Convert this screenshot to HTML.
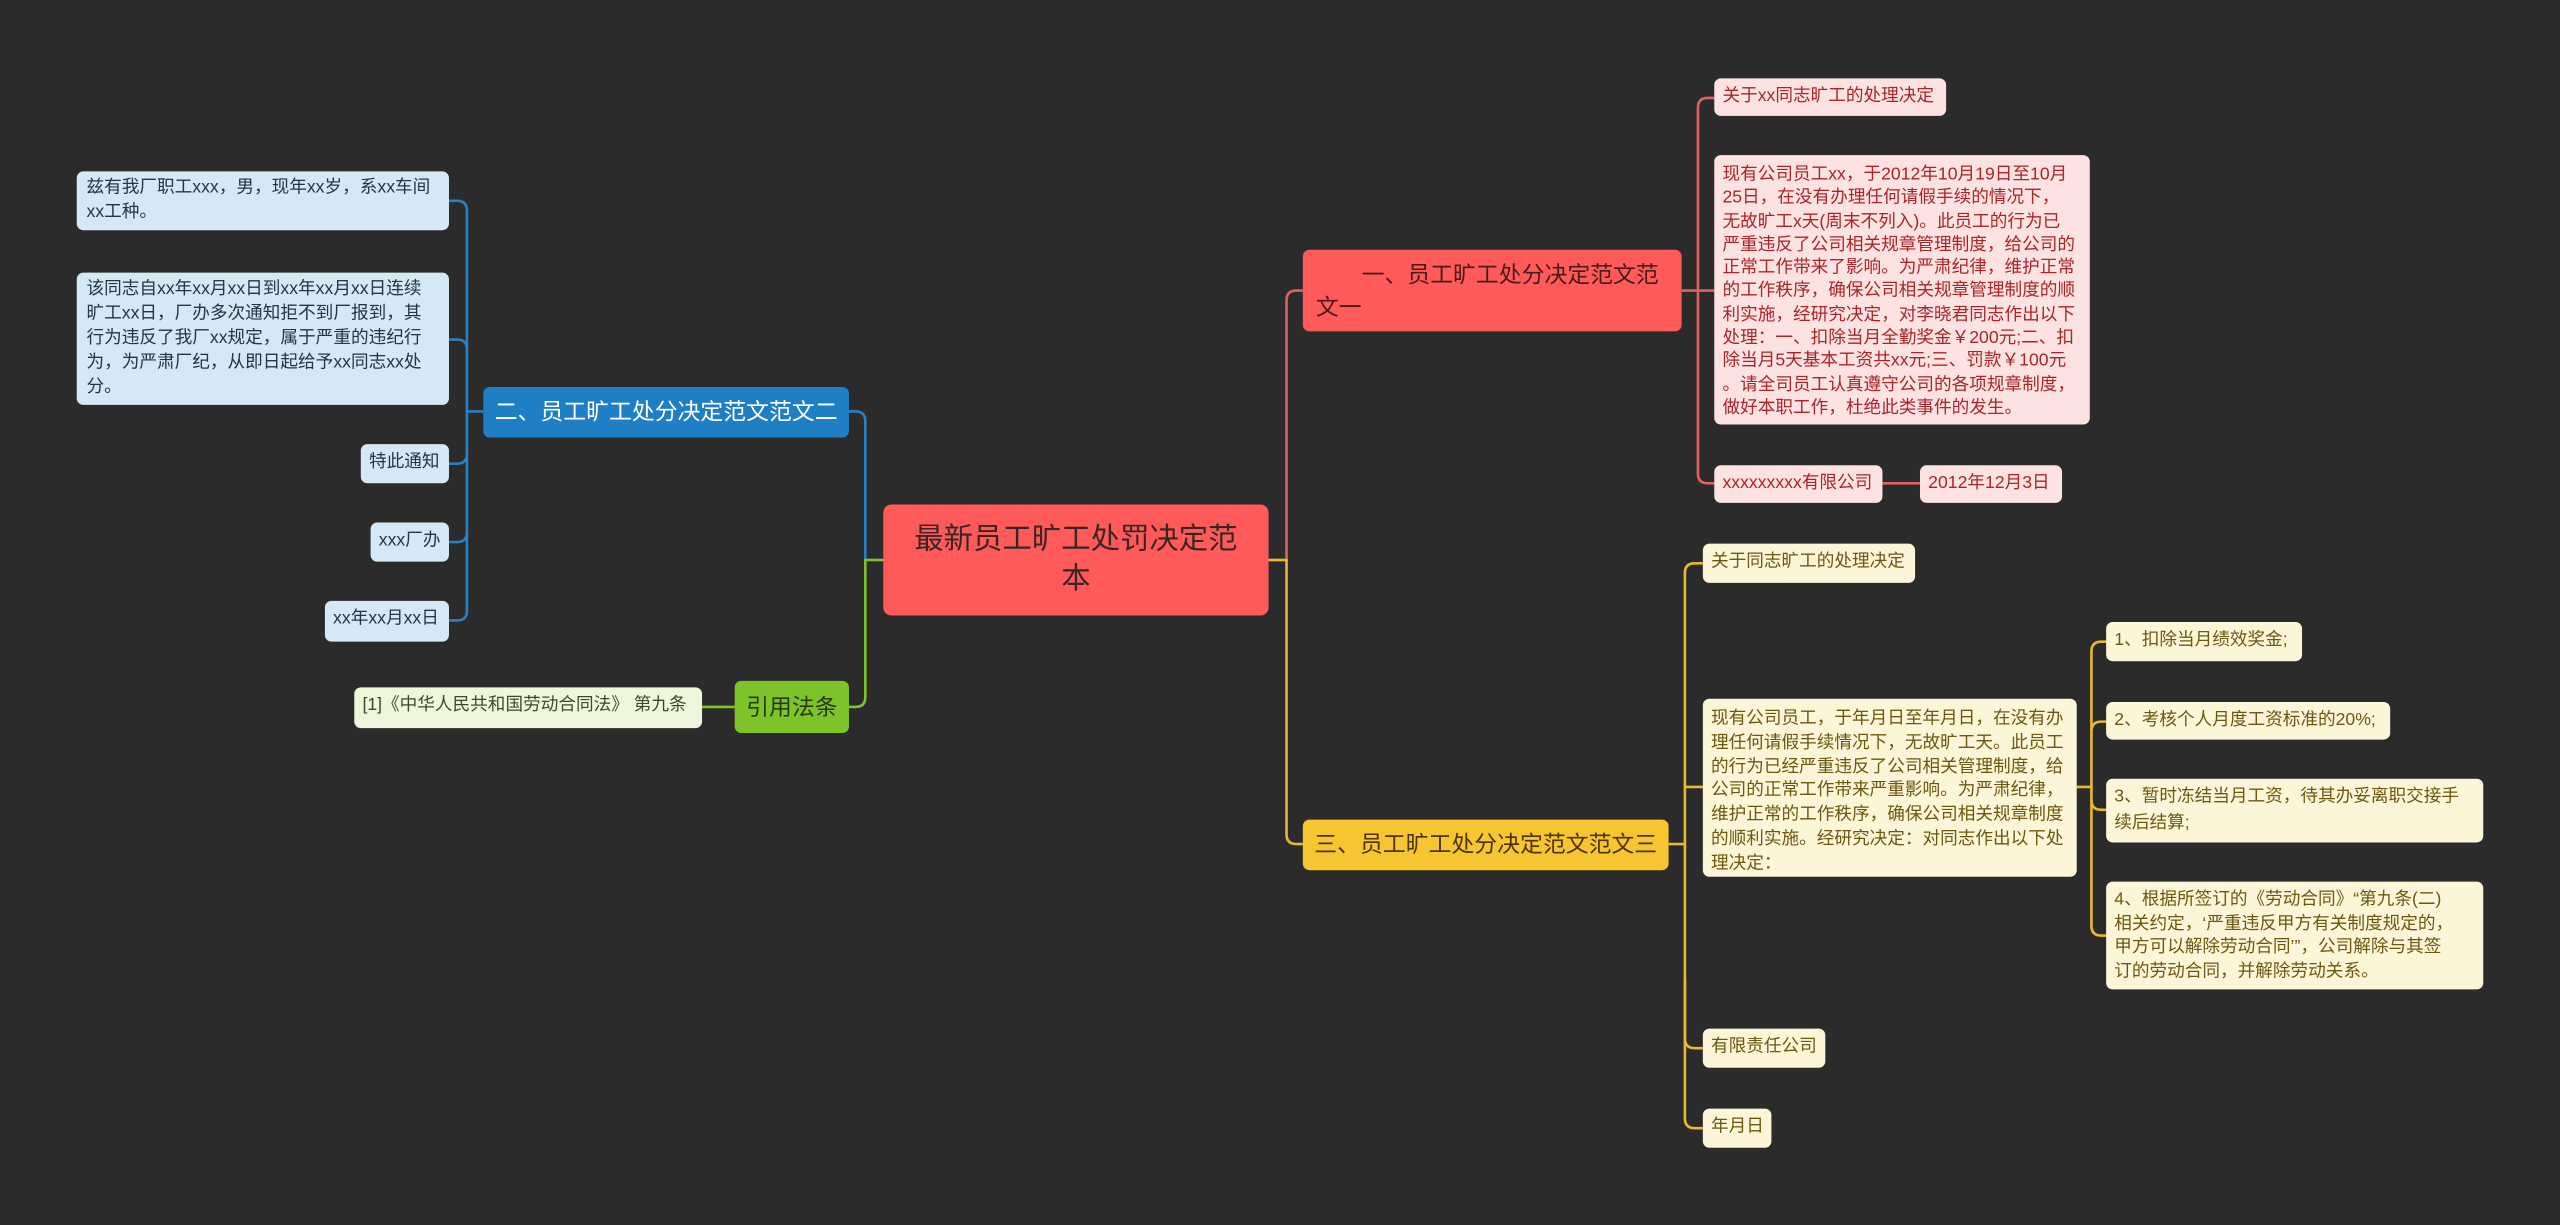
<!DOCTYPE html>
<html><head><meta charset="utf-8"><style>
html,body{margin:0;padding:0;background:#2b2b2b;width:2560px;height:1224px;overflow:hidden}
#w{position:absolute;left:0;top:0;width:1568px;height:750px;transform:scale(1.63265);transform-origin:0 0;font-family:"Liberation Sans","Noto Sans CJK SC",sans-serif}
.n{position:absolute;box-sizing:border-box;border-radius:4px;font-size:10.8px;line-height:15.5px;padding:4px 5px;overflow:hidden;white-space:nowrap}
.r{background:#fde2e2;color:#a8262a}
.b{background:#d5e8f5;color:#253544}
.g{background:#eef6dc;color:#3d4a22}
.y{background:#fcf5d7;color:#6e5710}
svg{position:absolute;left:0;top:0}
</style></head><body><div id="w">
<svg width="1568" height="750" fill="none" stroke-width="1.6" stroke-linejoin="round">
<g stroke="#e06060">
<path d="M777 343 H788 V184 Q788 178 794 178 H798"/>
<path d="M1030 178 H1040 V66 Q1040 60 1046 60 H1050"/>
<path d="M1040 178 H1050"/>
<path d="M1040 178 V290 Q1040 296 1046 296 H1050"/>
<path d="M1153 296 H1176"/>
</g>
<g stroke="#e8b830">
<path d="M777 343 H788 V511 Q788 517 794 517 H798"/>
<path d="M1022 517 H1032 V351 Q1032 345 1038 345 H1043"/>
<path d="M1032 482 H1043"/>
<path d="M1032 517 V636 Q1032 642 1038 642 H1043"/>
<path d="M1032 600 V685 Q1032 691 1038 691 H1043"/>
<path d="M1272 482 H1281 V399 Q1281 393 1287 393 H1290"/>
<path d="M1281 448 Q1281 442 1287 442 H1290"/>
<path d="M1281 490 Q1281 496 1287 496 H1290"/>
<path d="M1281 482 V567 Q1281 573 1287 573 H1290"/>
</g>
<g stroke="#2a80c0">
<path d="M541 343 H530 V258 Q530 252 524 252 H520"/>
<path d="M296 252 H286 V129 Q286 123 280 123 H275"/>
<path d="M286 214 Q286 208 280 208 H275"/>
<path d="M286 252 V374 Q286 380 280 380 H275"/>
<path d="M286 278 Q286 284 280 284 H275"/>
<path d="M286 326 Q286 332 280 332 H275"/>
</g>
<g stroke="#7cc42a">
<path d="M541 343 H530 V427 Q530 433 524 433 H520"/>
<path d="M450 433 H430"/>
</g>
</svg>

<div class="n" style="left:541px;top:309px;width:236px;height:68px;background:#ff5a5a;color:#3a2525;font-size:18px;line-height:24px;text-align:center;padding:9px 12px;border-radius:5px;white-space:normal">最新员工旷工处罚决定范本</div>

<div class="n" style="left:798px;top:153px;width:232px;height:50px;background:#ff5a5a;color:#4a1a1a;font-size:14px;line-height:20px;padding:5px 8px;white-space:normal">　　一、员工旷工处分决定范文范文一</div>
<div class="n r" style="left:1050px;top:48px;width:142px;height:23px">关于xx同志旷工的处理决定</div>
<div class="n r" style="left:1050px;top:95px;width:230px;height:165px;line-height:14.3px;padding:5px 5px">现有公司员工xx，于2012年10月19日至10月<br>25日，在没有办理任何请假手续的情况下，<br>无故旷工x天(周末不列入)。此员工的行为已<br>严重违反了公司相关规章管理制度，给公司的<br>正常工作带来了影响。为严肃纪律，维护正常<br>的工作秩序，确保公司相关规章管理制度的顺<br>利实施，经研究决定，对李晓君同志作出以下<br>处理：一、扣除当月全勤奖金￥200元;二、扣<br>除当月5天基本工资共xx元;三、罚款￥100元<br>。请全司员工认真遵守公司的各项规章制度，<br>做好本职工作，杜绝此类事件的发生。</div>
<div class="n r" style="left:1050px;top:285px;width:103px;height:23px">xxxxxxxxx有限公司</div>
<div class="n r" style="left:1176px;top:285px;width:87px;height:23px">2012年12月3日</div>

<div class="n" style="left:296px;top:237px;width:224px;height:31px;background:#1f7fc4;color:#fff;font-size:14px;line-height:20px;padding:5px 7px">二、员工旷工处分决定范文范文二</div>
<div class="n b" style="left:47px;top:105px;width:228px;height:36px;line-height:15px;padding:3px 6px">兹有我厂职工xxx，男，现年xx岁，系xx车间<br>xx工种。</div>
<div class="n b" style="left:47px;top:167px;width:228px;height:81px;line-height:15px;padding:3px 6px">该同志自xx年xx月xx日到xx年xx月xx日连续<br>旷工xx日，厂办多次通知拒不到厂报到，其<br>行为违反了我厂xx规定，属于严重的违纪行<br>为，为严肃厂纪，从即日起给予xx同志xx处<br>分。</div>
<div class="n b" style="left:221px;top:272px;width:54px;height:24px">特此通知</div>
<div class="n b" style="left:227px;top:320px;width:48px;height:24px">xxx厂办</div>
<div class="n b" style="left:199px;top:368px;width:76px;height:25px">xx年xx月xx日</div>

<div class="n" style="left:450px;top:417px;width:70px;height:32px;background:#7cc42a;color:#2a3a10;font-size:14px;line-height:20px;padding:6px 7px">引用法条</div>
<div class="n g" style="left:217px;top:421px;width:213px;height:25px">[1]《中华人民共和国劳动合同法》 第九条</div>

<div class="n" style="left:798px;top:502px;width:224px;height:31px;background:#f7c531;color:#4a3508;font-size:14px;line-height:20px;padding:5px 7px">三、员工旷工处分决定范文范文三</div>
<div class="n y" style="left:1043px;top:333px;width:130px;height:24px">关于同志旷工的处理决定</div>
<div class="n y" style="left:1043px;top:428px;width:229px;height:109px;line-height:14.8px;padding:5px 5px">现有公司员工，于年月日至年月日，在没有办<br>理任何请假手续情况下，无故旷工天。此员工<br>的行为已经严重违反了公司相关管理制度，给<br>公司的正常工作带来严重影响。为严肃纪律，<br>维护正常的工作秩序，确保公司相关规章制度<br>的顺利实施。经研究决定：对同志作出以下处<br>理决定：</div>
<div class="n y" style="left:1043px;top:630px;width:75px;height:24px">有限责任公司</div>
<div class="n y" style="left:1043px;top:679px;width:42px;height:24px">年月日</div>
<div class="n y" style="left:1290px;top:381px;width:120px;height:24px">1、扣除当月绩效奖金;</div>
<div class="n y" style="left:1290px;top:430px;width:174px;height:23px">2、考核个人月度工资标准的20%;</div>
<div class="n y" style="left:1290px;top:477px;width:231px;height:39px;padding:4px 5px">3、暂时冻结当月工资，待其办妥离职交接手<br>续后结算;</div>
<div class="n y" style="left:1290px;top:540px;width:231px;height:66px;line-height:14.5px;padding:4px 5px">4、根据所签订的《劳动合同》“第九条(二)<br>相关约定，‘严重违反甲方有关制度规定的，<br>甲方可以解除劳动合同’”，公司解除与其签<br>订的劳动合同，并解除劳动关系。</div>
</div></body></html>
